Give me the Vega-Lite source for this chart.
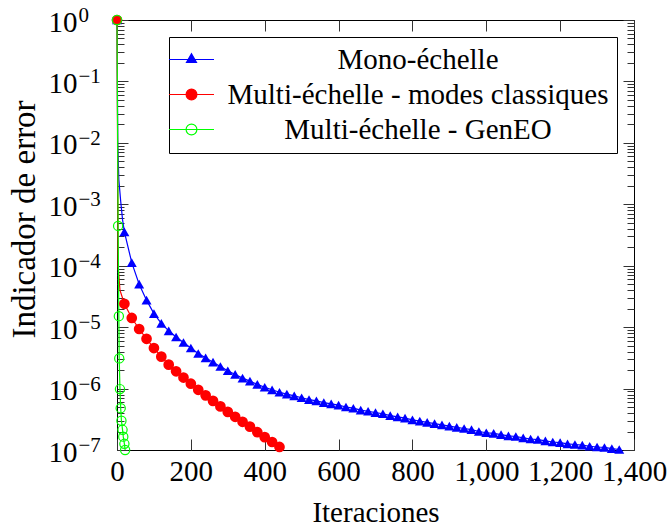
{
  "$schema": "https://vega.github.io/schema/vega-lite/v6.json",
  "width": 517,
  "height": 430,
  "autosize": {"type": "none"},
  "padding": {"left": 117, "top": 20, "right": 36, "bottom": 76},
  "config": {
    "font": "Liberation Serif",
    "view": {"stroke": "#000000", "strokeWidth": 1},
    "axis": {
      "labelFont": "Liberation Serif",
      "titleFont": "Liberation Serif",
      "labelFontSize": 29,
      "titleFontSize": 29,
      "titleFontWeight": "normal",
      "labelColor": "#000000",
      "titleColor": "#000000",
      "domain": false,
      "grid": false,
      "tickColor": "#333333",
      "tickWidth": 1,
      "labelFlush": false,
      "labelOverlap": false
    }
  },
  "data": {
    "values": [
      {"s": "Mono-échelle", "it": 0, "v": 1, "m": 1},
      {"s": "Mono-échelle", "it": 2, "v": 1e-2, "m": 0},
      {"s": "Mono-échelle", "it": 5, "v": 2.51e-3, "m": 0},
      {"s": "Mono-échelle", "it": 10, "v": 1.12e-3, "m": 0},
      {"s": "Mono-échelle", "it": 15, "v": 5.62e-4, "m": 0},
      {"s": "Mono-échelle", "it": 20, "v": 3.55e-4, "m": 1},
      {"s": "Mono-échelle", "it": 40, "v": 1.12e-4, "m": 1},
      {"s": "Mono-échelle", "it": 60, "v": 5.01e-5, "m": 1},
      {"s": "Mono-échelle", "it": 80, "v": 2.75e-5, "m": 1},
      {"s": "Mono-échelle", "it": 100, "v": 1.66e-5, "m": 1},
      {"s": "Mono-échelle", "it": 120, "v": 1.15e-5, "m": 1},
      {"s": "Mono-échelle", "it": 140, "v": 8.71e-6, "m": 1},
      {"s": "Mono-échelle", "it": 160, "v": 6.92e-6, "m": 1},
      {"s": "Mono-échelle", "it": 180, "v": 5.62e-6, "m": 1},
      {"s": "Mono-échelle", "it": 200, "v": 4.57e-6, "m": 1},
      {"s": "Mono-échelle", "it": 220, "v": 3.72e-6, "m": 1},
      {"s": "Mono-échelle", "it": 240, "v": 3.16e-6, "m": 1},
      {"s": "Mono-échelle", "it": 260, "v": 2.69e-6, "m": 1},
      {"s": "Mono-échelle", "it": 280, "v": 2.29e-6, "m": 1},
      {"s": "Mono-échelle", "it": 300, "v": 1.95e-6, "m": 1},
      {"s": "Mono-échelle", "it": 320, "v": 1.70e-6, "m": 1},
      {"s": "Mono-échelle", "it": 340, "v": 1.48e-6, "m": 1},
      {"s": "Mono-échelle", "it": 360, "v": 1.32e-6, "m": 1},
      {"s": "Mono-échelle", "it": 380, "v": 1.17e-6, "m": 1},
      {"s": "Mono-échelle", "it": 400, "v": 1.05e-6, "m": 1},
      {"s": "Mono-échelle", "it": 420, "v": 9.55e-7, "m": 1},
      {"s": "Mono-échelle", "it": 440, "v": 8.71e-7, "m": 1},
      {"s": "Mono-échelle", "it": 460, "v": 8.13e-7, "m": 1},
      {"s": "Mono-échelle", "it": 480, "v": 7.59e-7, "m": 1},
      {"s": "Mono-échelle", "it": 500, "v": 7.08e-7, "m": 1},
      {"s": "Mono-échelle", "it": 520, "v": 6.61e-7, "m": 1},
      {"s": "Mono-échelle", "it": 540, "v": 6.31e-7, "m": 1},
      {"s": "Mono-échelle", "it": 560, "v": 5.89e-7, "m": 1},
      {"s": "Mono-échelle", "it": 580, "v": 5.62e-7, "m": 1},
      {"s": "Mono-échelle", "it": 600, "v": 5.37e-7, "m": 1},
      {"s": "Mono-échelle", "it": 620, "v": 5.01e-7, "m": 1},
      {"s": "Mono-échelle", "it": 640, "v": 4.79e-7, "m": 1},
      {"s": "Mono-échelle", "it": 660, "v": 4.47e-7, "m": 1},
      {"s": "Mono-échelle", "it": 680, "v": 4.27e-7, "m": 1},
      {"s": "Mono-échelle", "it": 700, "v": 4.07e-7, "m": 1},
      {"s": "Mono-échelle", "it": 720, "v": 3.89e-7, "m": 1},
      {"s": "Mono-échelle", "it": 740, "v": 3.63e-7, "m": 1},
      {"s": "Mono-échelle", "it": 760, "v": 3.47e-7, "m": 1},
      {"s": "Mono-échelle", "it": 780, "v": 3.31e-7, "m": 1},
      {"s": "Mono-échelle", "it": 800, "v": 3.09e-7, "m": 1},
      {"s": "Mono-échelle", "it": 820, "v": 2.95e-7, "m": 1},
      {"s": "Mono-échelle", "it": 840, "v": 2.82e-7, "m": 1},
      {"s": "Mono-échelle", "it": 860, "v": 2.69e-7, "m": 1},
      {"s": "Mono-échelle", "it": 880, "v": 2.57e-7, "m": 1},
      {"s": "Mono-échelle", "it": 900, "v": 2.45e-7, "m": 1},
      {"s": "Mono-échelle", "it": 920, "v": 2.34e-7, "m": 1},
      {"s": "Mono-échelle", "it": 940, "v": 2.24e-7, "m": 1},
      {"s": "Mono-échelle", "it": 960, "v": 2.14e-7, "m": 1},
      {"s": "Mono-échelle", "it": 980, "v": 2.00e-7, "m": 1},
      {"s": "Mono-échelle", "it": 1000, "v": 1.91e-7, "m": 1},
      {"s": "Mono-échelle", "it": 1020, "v": 1.86e-7, "m": 1},
      {"s": "Mono-échelle", "it": 1040, "v": 1.78e-7, "m": 1},
      {"s": "Mono-échelle", "it": 1060, "v": 1.70e-7, "m": 1},
      {"s": "Mono-échelle", "it": 1080, "v": 1.66e-7, "m": 1},
      {"s": "Mono-échelle", "it": 1100, "v": 1.58e-7, "m": 1},
      {"s": "Mono-échelle", "it": 1120, "v": 1.51e-7, "m": 1},
      {"s": "Mono-échelle", "it": 1140, "v": 1.48e-7, "m": 1},
      {"s": "Mono-échelle", "it": 1160, "v": 1.41e-7, "m": 1},
      {"s": "Mono-échelle", "it": 1180, "v": 1.35e-7, "m": 1},
      {"s": "Mono-échelle", "it": 1200, "v": 1.32e-7, "m": 1},
      {"s": "Mono-échelle", "it": 1220, "v": 1.26e-7, "m": 1},
      {"s": "Mono-échelle", "it": 1240, "v": 1.23e-7, "m": 1},
      {"s": "Mono-échelle", "it": 1260, "v": 1.20e-7, "m": 1},
      {"s": "Mono-échelle", "it": 1280, "v": 1.15e-7, "m": 1},
      {"s": "Mono-échelle", "it": 1300, "v": 1.12e-7, "m": 1},
      {"s": "Mono-échelle", "it": 1320, "v": 1.10e-7, "m": 1},
      {"s": "Mono-échelle", "it": 1340, "v": 1.05e-7, "m": 1},
      {"s": "Mono-échelle", "it": 1360, "v": 1.02e-7, "m": 1},
      {"s": "Multi-échelle - modes classiques", "it": 0, "v": 1, "m": 1},
      {"s": "Multi-échelle - modes classiques", "it": 3, "v": 1.0e-4, "m": 0},
      {"s": "Multi-échelle - modes classiques", "it": 8, "v": 4.0e-5, "m": 0},
      {"s": "Multi-échelle - modes classiques", "it": 20, "v": 2.40e-5, "m": 1},
      {"s": "Multi-échelle - modes classiques", "it": 40, "v": 1.41e-5, "m": 1},
      {"s": "Multi-échelle - modes classiques", "it": 60, "v": 9.33e-6, "m": 1},
      {"s": "Multi-échelle - modes classiques", "it": 80, "v": 6.46e-6, "m": 1},
      {"s": "Multi-échelle - modes classiques", "it": 100, "v": 4.57e-6, "m": 1},
      {"s": "Multi-échelle - modes classiques", "it": 120, "v": 3.31e-6, "m": 1},
      {"s": "Multi-échelle - modes classiques", "it": 140, "v": 2.45e-6, "m": 1},
      {"s": "Multi-échelle - modes classiques", "it": 160, "v": 1.91e-6, "m": 1},
      {"s": "Multi-échelle - modes classiques", "it": 180, "v": 1.51e-6, "m": 1},
      {"s": "Multi-échelle - modes classiques", "it": 200, "v": 1.20e-6, "m": 1},
      {"s": "Multi-échelle - modes classiques", "it": 220, "v": 9.55e-7, "m": 1},
      {"s": "Multi-échelle - modes classiques", "it": 240, "v": 7.76e-7, "m": 1},
      {"s": "Multi-échelle - modes classiques", "it": 260, "v": 6.31e-7, "m": 1},
      {"s": "Multi-échelle - modes classiques", "it": 280, "v": 5.13e-7, "m": 1},
      {"s": "Multi-échelle - modes classiques", "it": 300, "v": 4.17e-7, "m": 1},
      {"s": "Multi-échelle - modes classiques", "it": 320, "v": 3.47e-7, "m": 1},
      {"s": "Multi-échelle - modes classiques", "it": 340, "v": 2.88e-7, "m": 1},
      {"s": "Multi-échelle - modes classiques", "it": 360, "v": 2.40e-7, "m": 1},
      {"s": "Multi-échelle - modes classiques", "it": 380, "v": 1.95e-7, "m": 1},
      {"s": "Multi-échelle - modes classiques", "it": 400, "v": 1.62e-7, "m": 1},
      {"s": "Multi-échelle - modes classiques", "it": 420, "v": 1.35e-7, "m": 1},
      {"s": "Multi-échelle - modes classiques", "it": 440, "v": 1.12e-7, "m": 1},
      {"s": "Multi-échelle - GenEO", "it": 0, "v": 1, "m": 1},
      {"s": "Multi-échelle - GenEO", "it": 3, "v": 4.45e-4, "m": 1},
      {"s": "Multi-échelle - GenEO", "it": 5, "v": 1.51e-5, "m": 1},
      {"s": "Multi-échelle - GenEO", "it": 6, "v": 3.1e-6, "m": 1},
      {"s": "Multi-échelle - GenEO", "it": 8, "v": 9.8e-7, "m": 1},
      {"s": "Multi-échelle - GenEO", "it": 10, "v": 4.8e-7, "m": 1},
      {"s": "Multi-échelle - GenEO", "it": 12, "v": 3.0e-7, "m": 1},
      {"s": "Multi-échelle - GenEO", "it": 15, "v": 2.13e-7, "m": 1},
      {"s": "Multi-échelle - GenEO", "it": 17, "v": 1.65e-7, "m": 1},
      {"s": "Multi-échelle - GenEO", "it": 20, "v": 1.26e-7, "m": 1},
      {"s": "Multi-échelle - GenEO", "it": 22, "v": 1.0e-7, "m": 1}
    ]
  },
  "resolve": {"axis": {"x": "independent", "y": "independent"}},
  "layer": [
    {
      "mark": {"type": "line", "strokeWidth": 1.2, "clip": false},
      "encoding": {
        "x": {
          "field": "it", "type": "quantitative",
          "scale": {"domain": [0, 1400], "nice": false, "zero": false},
          "axis": {
            "orient": "bottom",
            "values": [0, 200, 400, 600, 800, 1000, 1200, 1400],
            "format": ",d",
            "title": "Iteraciones",
            "tickSize": -11,
            "labelPadding": 18,
            "titlePadding": 12
          }
        },
        "y": {
          "field": "v", "type": "quantitative",
          "scale": {"type": "log", "domain": [1e-7, 1], "nice": false},
          "axis": {
            "orient": "left",
            "values": [1e-7, 2e-7, 3e-7, 4e-7, 5e-7, 6e-7, 7e-7, 8e-7, 9e-7, 1e-6, 2e-6, 3e-6, 4e-6, 5e-6, 6e-6, 7e-6, 8e-6, 9e-6, 1e-5, 2e-5, 3e-5, 4e-5, 5e-5, 6e-5, 7e-5, 8e-5, 9e-5, 1e-4, 2e-4, 3e-4, 4e-4, 5e-4, 6e-4, 7e-4, 8e-4, 9e-4, 1e-3, 2e-3, 3e-3, 4e-3, 5e-3, 6e-3, 7e-3, 8e-3, 9e-3, 1e-2, 2e-2, 3e-2, 4e-2, 5e-2, 6e-2, 7e-2, 8e-2, 9e-2, 0.1, 0.2, 0.3, 0.4, 0.5, 0.6, 0.7, 0.8, 0.9, 1],
            "labelExpr": "abs(log(datum.value)/LN10 - round(log(datum.value)/LN10)) < 0.01 ? '10' : ''",
            "labelOffset": 2,
            "title": "Indicador de error",
            "titleFontSize": 33,
            "titleY": 199,
            "tickSize": {"condition": {"test": "abs(log(datum.value)/LN10 - round(log(datum.value)/LN10)) < 0.01", "value": -11}, "value": -7},
            "labelPadding": 51,
            "titlePadding": 7
          }
        },
        "color": {
          "field": "s", "type": "nominal",
          "scale": {
            "domain": ["Mono-échelle", "Multi-échelle - modes classiques", "Multi-échelle - GenEO"],
            "range": ["#0000ff", "#ff0000", "#00ff00"]
          },
          "legend": {
            "title": null,
            "orient": "top-right",
            "offset": 17,
            "padding": 8,
            "strokeColor": "#000000",
            "fillColor": "#ffffff",
            "cornerRadius": 0,
            "labelFont": "Liberation Serif",
            "labelFontSize": 29,
            "labelColor": "#000000",
            "labelAlign": "center",
            "labelOffset": 212,
            "labelLimit": 0,
            "symbolSize": 196,
            "symbolStrokeWidth": 1.2,
            "rowPadding": 5,
            "encoding": {
              "symbols": {
                "shape": {
                  "condition": {"test": "datum.value === 'Mono-échelle'", "value": "M-3.214,0L3.214,0M0,-0.829L0.714,0.414L-0.714,0.414Z"},
                  "value": "M-3.214,0L3.214,0M0.771,0C0.771,0.426,0.426,0.771,0,0.771C-0.426,0.771,-0.771,0.426,-0.771,0C-0.771,-0.426,-0.426,-0.771,0,-0.771C0.426,-0.771,0.771,-0.426,0.771,0Z"
                },
                "fill": {
                  "condition": [
                    {"test": "datum.value === 'Mono-échelle'", "value": "#0000ff"},
                    {"test": "datum.value === 'Multi-échelle - modes classiques'", "value": "#ff0000"}
                  ],
                  "value": "transparent"
                },
                "fillOpacity": {"value": 1},
                "strokeWidth": {"value": 1.2}
              }
            }
          }
        }
      }
    },
    {
      "transform": [{"filter": "datum.s === 'Mono-échelle' && datum.m === 1"}],
      "mark": {"type": "point", "shape": "triangle-up", "filled": true, "color": "#0000ff", "size": 100, "opacity": 1, "clip": false},
      "encoding": {
        "x": {
          "field": "it", "type": "quantitative",
          "axis": {"orient": "top", "values": [0, 200, 400, 600, 800, 1000, 1200, 1400], "labels": false, "title": null, "tickSize": -11}
        },
        "y": {
          "field": "v", "type": "quantitative",
          "axis": {
            "orient": "right",
            "values": [1e-7, 2e-7, 3e-7, 4e-7, 5e-7, 6e-7, 7e-7, 8e-7, 9e-7, 1e-6, 2e-6, 3e-6, 4e-6, 5e-6, 6e-6, 7e-6, 8e-6, 9e-6, 1e-5, 2e-5, 3e-5, 4e-5, 5e-5, 6e-5, 7e-5, 8e-5, 9e-5, 1e-4, 2e-4, 3e-4, 4e-4, 5e-4, 6e-4, 7e-4, 8e-4, 9e-4, 1e-3, 2e-3, 3e-3, 4e-3, 5e-3, 6e-3, 7e-3, 8e-3, 9e-3, 1e-2, 2e-2, 3e-2, 4e-2, 5e-2, 6e-2, 7e-2, 8e-2, 9e-2, 0.1, 0.2, 0.3, 0.4, 0.5, 0.6, 0.7, 0.8, 0.9, 1],
            "labels": false,
            "title": null,
            "tickSize": {"condition": {"test": "abs(log(datum.value)/LN10 - round(log(datum.value)/LN10)) < 0.01", "value": -11}, "value": -7}
          }
        }
      }
    },
    {
      "transform": [{"filter": "datum.s === 'Multi-échelle - modes classiques' && datum.m === 1"}],
      "mark": {"type": "point", "shape": "circle", "filled": true, "color": "#ff0000", "size": 115, "opacity": 1, "clip": false},
      "encoding": {
        "x": {"field": "it", "type": "quantitative", "axis": null},
        "y": {
          "field": "v", "type": "quantitative",
          "axis": {
            "orient": "left",
            "values": [1e-7, 1e-6, 1e-5, 1e-4, 1e-3, 1e-2, 0.1, 1],
            "labelExpr": "round(log(datum.value)/LN10) == 0 ? '0' : '−' + format(-round(log(datum.value)/LN10), 'd')",
            "ticks": false,
            "title": null,
            "labelFontSize": 21,
            "labelAlign": "left",
            "labelBaseline": "alphabetic",
            "labelOffset": 1.5,
            "labelPadding": 39
          }
        }
      }
    },
    {
      "transform": [{"filter": "datum.s === 'Multi-échelle - GenEO' && datum.m === 1"}],
      "mark": {"type": "point", "shape": "circle", "filled": false, "color": "#00ff00", "strokeWidth": 1.2, "size": 85, "opacity": 1, "clip": false},
      "encoding": {
        "x": {"field": "it", "type": "quantitative", "axis": null},
        "y": {"field": "v", "type": "quantitative", "axis": null}
      }
    }
  ]
}
